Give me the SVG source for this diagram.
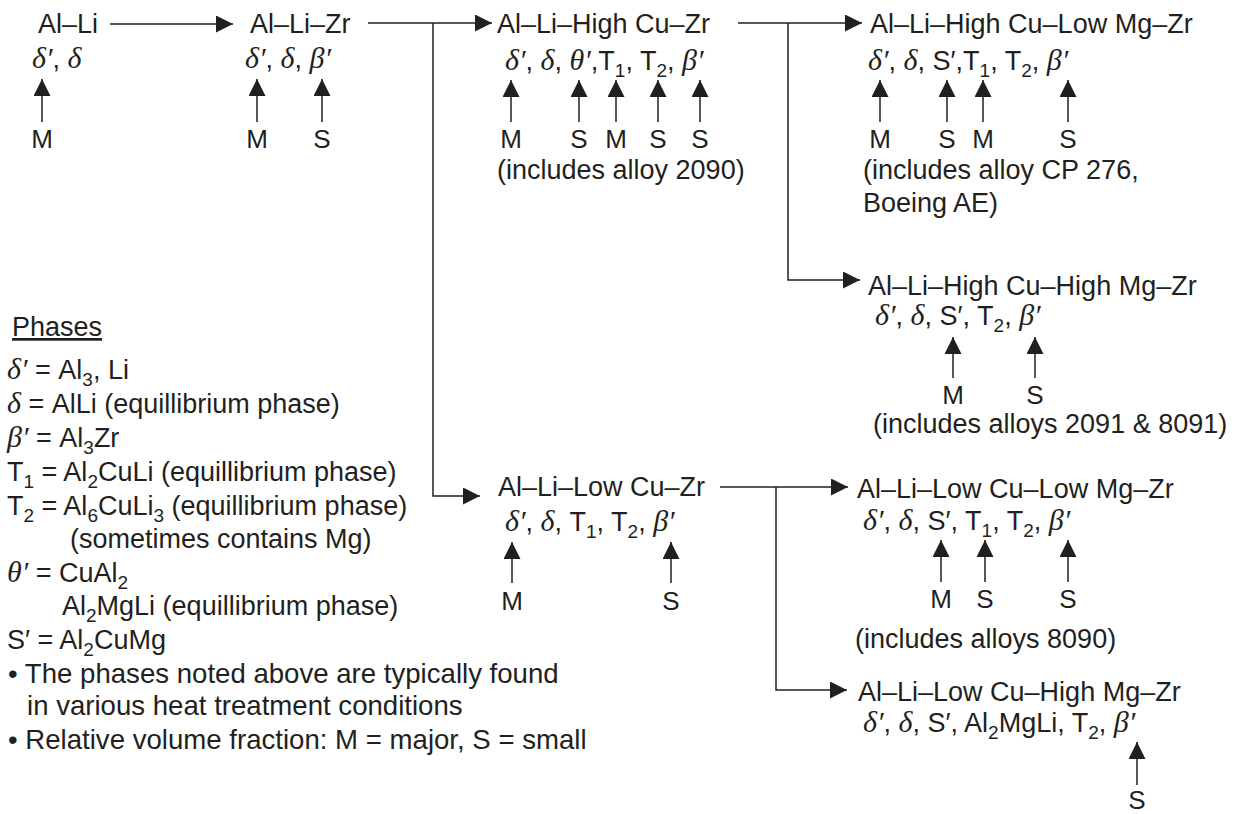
<svg xmlns="http://www.w3.org/2000/svg" width="1249" height="814" viewBox="0 0 1249 814">
<defs>
<marker id="ah" viewBox="0 0 17 17" refX="17" refY="8.5" markerWidth="17" markerHeight="17" markerUnits="userSpaceOnUse" orient="auto"><path d="M0,0 L17,8.5 L0,17 Z" fill="#231f20"/></marker>
<style>
.t{font-family:"Liberation Sans",Arial,sans-serif;font-size:27px;fill:#231f20}
.b{font-size:27.6px}
.m{font-family:"Liberation Sans",Arial,sans-serif;font-size:26px;fill:#231f20;text-anchor:middle}
.g{font-family:"Liberation Serif","Times New Roman",serif;font-style:italic;font-size:30px}
.s{font-size:19px}
.a{fill:none;stroke:#231f20;stroke-width:1.5;marker-end:url(#ah)}
</style>
</defs>
<rect width="1249" height="814" fill="#ffffff"/>

<g id="connectors">
<path class="a" d="M110,24 H233"/>
<path class="a" d="M368,23 H492"/>
<path class="a" d="M433,23 V496 H480"/>
<path class="a" d="M738,23 H862"/>
<path class="a" d="M788,23 V280 H860"/>
<path class="a" d="M720,487 H848"/>
<path class="a" d="M776,487 V690 H847"/>
</g>

<g id="node-al-li">
<text class="t" x="38" y="33">Al–Li</text>
<text class="t" x="32" y="68"><tspan class="g">δ′</tspan>, <tspan class="g">δ</tspan></text>
<path class="a" d="M42,122 V79"/>
<text class="m" x="42" y="148">M</text>
</g>

<g id="node-al-li-zr">
<text class="t" x="250" y="33">Al–Li–Zr</text>
<text class="t" x="245" y="68"><tspan class="g">δ′</tspan>, <tspan class="g">δ</tspan>, <tspan class="g">β′</tspan></text>
<path class="a" d="M257,122 V79"/>
<path class="a" d="M322,122 V79"/>
<text class="m" x="257" y="148">M</text>
<text class="m" x="322" y="148">S</text>
</g>

<g id="node-high-cu">
<text class="t" x="497" y="33">Al–Li–High Cu–Zr</text>
<text class="t" x="505" y="70"><tspan class="g">δ′</tspan>, <tspan class="g">δ</tspan>, <tspan class="g">θ′</tspan>,T<tspan class="s" dy="7">1</tspan><tspan dy="-7">, T</tspan><tspan class="s" dy="7">2</tspan><tspan dy="-7">, </tspan><tspan class="g">β′</tspan></text>
<path class="a" d="M511,122 V80"/>
<path class="a" d="M579,122 V80"/>
<path class="a" d="M616,122 V80"/>
<path class="a" d="M658,122 V80"/>
<path class="a" d="M700,122 V80"/>
<text class="m" x="511" y="148">M</text>
<text class="m" x="579" y="148">S</text>
<text class="m" x="616" y="148">M</text>
<text class="m" x="658" y="148">S</text>
<text class="m" x="700" y="148">S</text>
<text class="t" x="497" y="179">(includes alloy 2090)</text>
</g>

<g id="node-high-cu-low-mg">
<text class="t" x="870" y="33">Al–Li–High Cu–Low Mg–Zr</text>
<text class="t" x="868" y="70"><tspan class="g">δ′</tspan>, <tspan class="g">δ</tspan>, S′,T<tspan class="s" dy="7">1</tspan><tspan dy="-7">, T</tspan><tspan class="s" dy="7">2</tspan><tspan dy="-7">, </tspan><tspan class="g">β′</tspan></text>
<path class="a" d="M880,122 V80"/>
<path class="a" d="M947,122 V80"/>
<path class="a" d="M983,122 V80"/>
<path class="a" d="M1068,122 V80"/>
<text class="m" x="880" y="148">M</text>
<text class="m" x="947" y="148">S</text>
<text class="m" x="983" y="148">M</text>
<text class="m" x="1068" y="148">S</text>
<text class="t" x="863" y="179">(includes alloy CP 276,</text>
<text class="t" x="863" y="212">Boeing AE)</text>
</g>

<g id="node-high-cu-high-mg">
<text class="t" x="868" y="295">Al–Li–High Cu–High Mg–Zr</text>
<text class="t" x="875" y="325"><tspan class="g">δ′</tspan>, <tspan class="g">δ</tspan>, S′, T<tspan class="s" dy="7">2</tspan><tspan dy="-7">, </tspan><tspan class="g">β′</tspan></text>
<path class="a" d="M953,378 V337"/>
<path class="a" d="M1035,378 V337"/>
<text class="m" x="953" y="404">M</text>
<text class="m" x="1035" y="404">S</text>
<text class="t" x="873" y="433">(includes alloys 2091 &amp; 8091)</text>
</g>

<g id="node-low-cu">
<text class="t" x="498" y="496">Al–Li–Low Cu–Zr</text>
<text class="t" x="505" y="531"><tspan class="g">δ′</tspan>, <tspan class="g">δ</tspan>, T<tspan class="s" dy="7">1</tspan><tspan dy="-7">, T</tspan><tspan class="s" dy="7">2</tspan><tspan dy="-7">, </tspan><tspan class="g">β′</tspan></text>
<path class="a" d="M512,583 V542"/>
<path class="a" d="M671,583 V542"/>
<text class="m" x="512" y="610">M</text>
<text class="m" x="671" y="610">S</text>
</g>

<g id="node-low-cu-low-mg">
<text class="t" x="857" y="498">Al–Li–Low Cu–Low Mg–Zr</text>
<text class="t" x="863" y="530"><tspan class="g">δ′</tspan>, <tspan class="g">δ</tspan>, S′, T<tspan class="s" dy="7">1</tspan><tspan dy="-7">, T</tspan><tspan class="s" dy="7">2</tspan><tspan dy="-7">, </tspan><tspan class="g">β′</tspan></text>
<path class="a" d="M941,582 V540"/>
<path class="a" d="M985,582 V540"/>
<path class="a" d="M1068,582 V540"/>
<text class="m" x="941" y="608">M</text>
<text class="m" x="985" y="608">S</text>
<text class="m" x="1068" y="608">S</text>
<text class="t" x="855" y="648">(includes alloys 8090)</text>
</g>

<g id="node-low-cu-high-mg">
<text class="t" x="858" y="701">Al–Li–Low Cu–High Mg–Zr</text>
<text class="t" x="863" y="732"><tspan class="g">δ′</tspan>, <tspan class="g">δ</tspan>, S′, Al<tspan class="s" dy="7">2</tspan><tspan dy="-7">MgLi, T</tspan><tspan class="s" dy="7">2</tspan><tspan dy="-7">, </tspan><tspan class="g">β′</tspan></text>
<path class="a" d="M1137,785 V742"/>
<text class="m" x="1137" y="809">S</text>
</g>

<g id="legend">
<text class="t" x="12" y="336" text-decoration="underline">Phases</text>
<text class="t" x="7" y="379"><tspan class="g">δ′</tspan> = Al<tspan class="s" dy="7">3</tspan><tspan dy="-7">, Li</tspan></text>
<text class="t" x="7" y="413"><tspan class="g">δ</tspan> = AlLi (equillibrium phase)</text>
<text class="t" x="7" y="447"><tspan class="g">β′</tspan> = Al<tspan class="s" dy="7">3</tspan><tspan dy="-7">Zr</tspan></text>
<text class="t" x="7" y="481">T<tspan class="s" dy="7">1</tspan><tspan dy="-7"> = Al</tspan><tspan class="s" dy="7">2</tspan><tspan dy="-7">CuLi (equillibrium phase)</tspan></text>
<text class="t" x="7" y="515">T<tspan class="s" dy="7">2</tspan><tspan dy="-7"> = Al</tspan><tspan class="s" dy="7">6</tspan><tspan dy="-7">CuLi</tspan><tspan class="s" dy="7">3</tspan><tspan dy="-7"> (equillibrium phase)</tspan></text>
<text class="t" x="70" y="548">(sometimes contains Mg)</text>
<text class="t" x="7" y="582"><tspan class="g">θ′</tspan> = CuAl<tspan class="s" dy="7">2</tspan></text>
<text class="t" x="62" y="615">Al<tspan class="s" dy="7">2</tspan><tspan dy="-7">MgLi (equillibrium phase)</tspan></text>
<text class="t" x="7" y="649">S′ = Al<tspan class="s" dy="7">2</tspan><tspan dy="-7">CuMg</tspan></text>
<text class="t b" x="8" y="683">• The phases noted above are typically found</text>
<text class="t b" x="27" y="715">in various heat treatment conditions</text>
<text class="t b" x="8" y="749">• Relative volume fraction: M = major, S = small</text>
</g>
</svg>
